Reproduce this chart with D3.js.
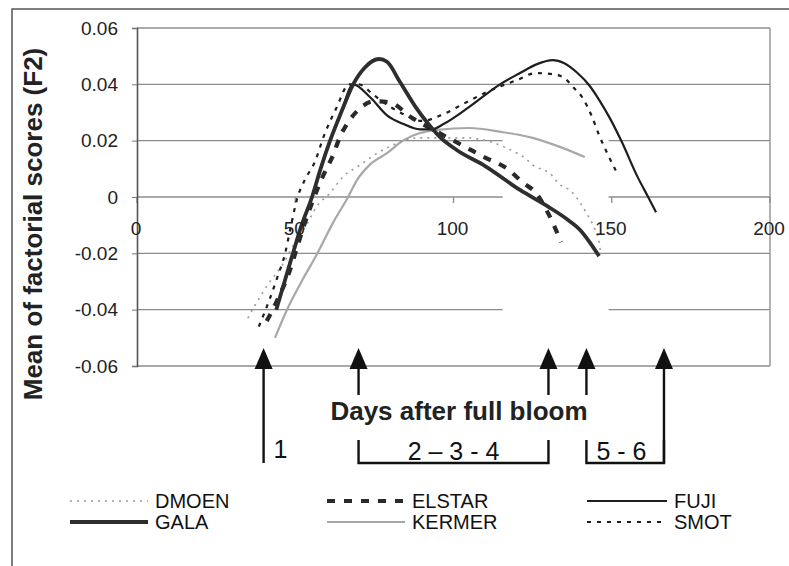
<!DOCTYPE html>
<html>
<head>
<meta charset="utf-8">
<script src="https://cdn.jsdelivr.net/npm/d3@7"></script>
<style>
  body { margin: 0; background: #fff; }
  svg { display: block; font-family: "Liberation Sans", Arial, sans-serif; }
</style>
</head>
<body>
<svg id="chart" width="789" height="566"></svg>
<script>
// values (days after full bloom, mean F2 score)
var dmoen = [[35,-0.043],[37,-0.039],[41.4,-0.031],[46,-0.024],[50,-0.016],[53.5,-0.010],[57,-0.003],[61,0.0014],[65,0.0071],[70,0.011],[75,0.0149],[80,0.018],[89,0.021],[99,0.021],[104,0.021],[112,0.0195],[116,0.0178],[120,0.0156],[122.6,0.0138],[125,0.0114],[131,0.0078],[133,0.005],[137.4,0.0018],[140,-0.002],[142,-0.0057],[144.5,-0.011],[146,-0.016],[146.5,-0.020]];
var elstar = [[41,-0.044],[45,-0.035],[48,-0.027],[50,-0.020],[52.5,-0.011],[56,0],[59,0.008],[62,0.015],[64,0.021],[67,0.027],[70,0.031],[75,0.034],[80,0.0335],[87,0.028],[95,0.023],[100,0.020],[105,0.017],[110,0.014],[117,0.010],[122,0.005],[126,0.0015],[130,-0.006],[134,-0.016]];
var fuji = [[44,-0.040],[49,-0.021],[52,-0.010],[55.3,0],[58,0.010],[61,0.020],[64.5,0.030],[68.3,0.040],[73.6,0.0355],[79,0.029],[84,0.026],[89.4,0.0240],[93,0.0240],[97,0.026],[105,0.032],[114.7,0.040],[121,0.044],[126,0.047],[131.4,0.0486],[135,0.0475],[139,0.0442],[143,0.0395],[146,0.0345],[149.4,0.028],[153.2,0.0195],[158,0.0075],[161.5,0],[164,-0.0054]];
var gala = [[44,-0.040],[49,-0.021],[52,-0.010],[55.3,0],[58,0.010],[61,0.020],[64.5,0.030],[68.3,0.040],[72,0.046],[76.5,0.049],[79,0.048],[83,0.041],[88,0.032],[92,0.026],[96,0.021],[101,0.0167],[110,0.011],[121,0.0025],[130,-0.0035],[136,-0.008],[140,-0.0117],[143,-0.016],[146,-0.021]];
var kermer = [[43.6,-0.050],[47.4,-0.040],[52,-0.030],[57,-0.020],[62,-0.009],[66.7,0],[69.5,0.006],[73.6,0.0115],[79,0.0156],[84,0.020],[89.4,0.0227],[94.8,0.0238],[105,0.0245],[115.6,0.023],[121,0.022],[125,0.021],[133.6,0.0178],[141.5,0.0142]];
var smot = [[38.5,-0.046],[42,-0.036],[44.5,-0.028],[46.8,-0.020],[48.5,-0.011],[50.5,-0.001],[53,0.006],[56,0.012],[59.4,0.0227],[63,0.0316],[67,0.040],[70,0.040],[75,0.036],[80,0.032],[85,0.029],[90,0.027],[96,0.029],[103,0.033],[110,0.037],[120,0.0415],[126,0.044],[130.5,0.0437],[134.6,0.0426],[137.8,0.039],[140.6,0.0355],[143.8,0.0284],[146,0.022],[148.8,0.015],[152,0.0078]];

var seriesNames = ["DMOEN", "ELSTAR", "FUJI", "GALA", "KERMER", "SMOT"];
var seriesValues = [dmoen, elstar, fuji, gala, kermer, smot];

var xTicks = [0, 50, 100, 150, 200];
var yTicks = [-0.06, -0.04, -0.02, 0, 0.02, 0.04, 0.06];
var yTickLabels = ["-0.06", "-0.04", "-0.02", "0", "0.02", "0.04", "0.06"];

// sampling dates marked by arrows, and the stage groups under them
var stageDays = [40, 70, 130, 142, 166.5];
var stageGroups = [
  { label: "1", from: 40, to: 40 },
  { label: "2 \u2013 3 - 4", from: 70, to: 130 },
  { label: "5 - 6", from: 142, to: 166.5 }
];

// gridlines that are broken in the scan
var gapLevels = [0.02, 0, -0.04];
var gapDays = [115.5, 149];

var styles = {
  DMOEN:  { stroke: "#9a9a9a", width: 1.6, dash: "2,5" },
  ELSTAR: { stroke: "#2a2a2a", width: 4.2, dash: "8,9" },
  FUJI:   { stroke: "#1e1e1e", width: 2.2, dash: null },
  GALA:   { stroke: "#2e2e2e", width: 3.8, dash: null },
  KERMER: { stroke: "#a8a8a8", width: 2.2, dash: null },
  SMOT:   { stroke: "#1e1e1e", width: 2.2, dash: "4,6" }
};

var svg = d3.select("#chart");

var x = d3.scaleLinear().domain([0, 200]).range([137, 770]);
var y = d3.scaleLinear().domain([-0.06, 0.06]).range([366, 28]);

// outer frame
svg.append("path")
   .attr("d", "M12,566 L12,9 L789,9")
   .attr("fill", "none")
   .attr("stroke", "#555")
   .attr("stroke-width", 1.5);

var plot = svg.append("g");

// gridlines
yTicks.forEach(function(v) {
  if (v === 0) return;
  var segs = [[0, 200]];
  if (gapLevels.indexOf(v) >= 0) segs = [[0, gapDays[0]], [gapDays[1], 200]];
  segs.forEach(function(s) {
    plot.append("line")
        .attr("x1", x(s[0])).attr("x2", x(s[1]))
        .attr("y1", y(v)).attr("y2", y(v))
        .attr("stroke", "#8c8c8c")
        .attr("stroke-width", 1.4);
  });
});

// right border of plot
plot.append("line")
    .attr("x1", x(200)).attr("x2", x(200))
    .attr("y1", y(0.06)).attr("y2", y(-0.06))
    .attr("stroke", "#9a9a9a")
    .attr("stroke-width", 1.5);

// x axis sits on zero
[[0, gapDays[0]], [gapDays[1], 200]].forEach(function(s) {
  plot.append("line")
      .attr("x1", x(s[0])).attr("x2", x(s[1]))
      .attr("y1", y(0)).attr("y2", y(0))
      .attr("stroke", "#8c8c8c")
      .attr("stroke-width", 1.4);
});
xTicks.forEach(function(t) {
  plot.append("line")
      .attr("x1", x(t)).attr("x2", x(t))
      .attr("y1", y(0)).attr("y2", y(0) + 6)
      .attr("stroke", "#8c8c8c")
      .attr("stroke-width", 1.3);
});

// y axis
var yAxis = d3.axisLeft(y)
    .tickValues(yTicks)
    .tickSize(5)
    .tickPadding(14)
    .tickFormat(function(d, i) { return yTickLabels[i]; });

var yg = plot.append("g")
    .attr("transform", "translate(" + x(0) + ",0)")
    .call(yAxis);
yg.select(".domain").attr("stroke", "#555").attr("stroke-width", 1.6);
yg.selectAll(".tick line").attr("stroke", "#777");
yg.selectAll(".tick text")
  .attr("font-size", 19)
  .attr("fill", "#222")
  .attr("font-family", "Liberation Sans, Arial, sans-serif");

// series
var line = d3.line()
    .x(function(d) { return x(d[0]); })
    .y(function(d) { return y(d[1]); })
    .curve(d3.curveMonotoneX);

var drawOrder = ["KERMER", "DMOEN", "SMOT", "ELSTAR", "FUJI", "GALA"];
drawOrder.forEach(function(name) {
  var st = styles[name];
  var data = seriesValues[seriesNames.indexOf(name)];
  plot.append("path")
      .datum(data)
      .attr("d", line)
      .attr("fill", "none")
      .attr("stroke", st.stroke)
      .attr("stroke-width", st.width)
      .attr("stroke-dasharray", st.dash)
      .attr("stroke-linejoin", "round");
});

// x tick labels, drawn over the curves
xTicks.forEach(function(t) {
  svg.append("text")
     .attr("x", x(t) - 1)
     .attr("y", y(0) + 38)
     .attr("text-anchor", "middle")
     .attr("font-size", 19)
     .attr("fill", "#222")
     .text(t);
});

// axis titles
svg.append("text")
   .attr("transform", "translate(42,224) rotate(-90)")
   .attr("text-anchor", "middle")
   .attr("font-size", 26)
   .attr("font-weight", "bold")
   .attr("fill", "#222")
   .text("Mean of factorial scores (F2)");

svg.append("text")
   .attr("x", 459)
   .attr("y", 420)
   .attr("text-anchor", "middle")
   .attr("font-size", 26)
   .attr("font-weight", "bold")
   .attr("fill", "#222")
   .text("Days after full bloom");

// stage arrows
var tipY = 348, baseY = 369, shortEnd = 395, longEnd = 463, bracketTop = 440;
stageDays.forEach(function(d, i) {
  var cx = x(d);
  var isLong = (i === 0 || i === stageDays.length - 1);
  svg.append("path")
     .attr("d", "M" + cx + "," + tipY + " L" + (cx - 9) + "," + baseY + " L" + (cx + 9) + "," + baseY + " Z")
     .attr("fill", "#111");
  svg.append("line")
     .attr("x1", cx).attr("x2", cx)
     .attr("y1", baseY).attr("y2", isLong ? longEnd : shortEnd)
     .attr("stroke", "#111")
     .attr("stroke-width", 2.4);
});

// brackets and stage labels
stageGroups.forEach(function(g) {
  var x0 = x(g.from), x1 = x(g.to);
  if (g.from !== g.to) {
    svg.append("path")
       .attr("d", "M" + x0 + "," + bracketTop + " L" + x0 + "," + longEnd +
                  " L" + x1 + "," + longEnd + " L" + x1 + "," + bracketTop)
       .attr("fill", "none")
       .attr("stroke", "#111")
       .attr("stroke-width", 2.4);
  }
  var t = svg.append("text")
     .attr("y", g.from === g.to ? 458 : 460)
     .attr("font-size", 25)
     .attr("fill", "#111")
     .text(g.label);
  if (g.from === g.to) {
    t.attr("x", x0 + 10);
  } else if (g.to > 160) {
    t.attr("x", x0 + 10);
  } else {
    t.attr("x", (x0 + x1) / 2).attr("text-anchor", "middle");
  }
});

// legend: three columns, two rows
var legendCols = [70, 327, 587];
var legendRows = [501, 522];
var legendOrder = ["DMOEN", "GALA", "ELSTAR", "KERMER", "FUJI", "SMOT"];
legendOrder.forEach(function(name, i) {
  var col = Math.floor(i / 2), row = i % 2;
  var st = styles[name];
  var lx = legendCols[col], ly = legendRows[row];
  var len = col === 2 ? 80 : 78;
  svg.append("line")
     .attr("x1", lx).attr("x2", lx + len)
     .attr("y1", ly).attr("y2", ly)
     .attr("stroke", st.stroke)
     .attr("stroke-width", st.width)
     .attr("stroke-dasharray", st.dash);
  svg.append("text")
     .attr("x", lx + len + 7)
     .attr("y", ly + 6.5)
     .attr("font-size", 20)
     .attr("fill", "#111")
     .text(name);
});
</script>
</body>
</html>
